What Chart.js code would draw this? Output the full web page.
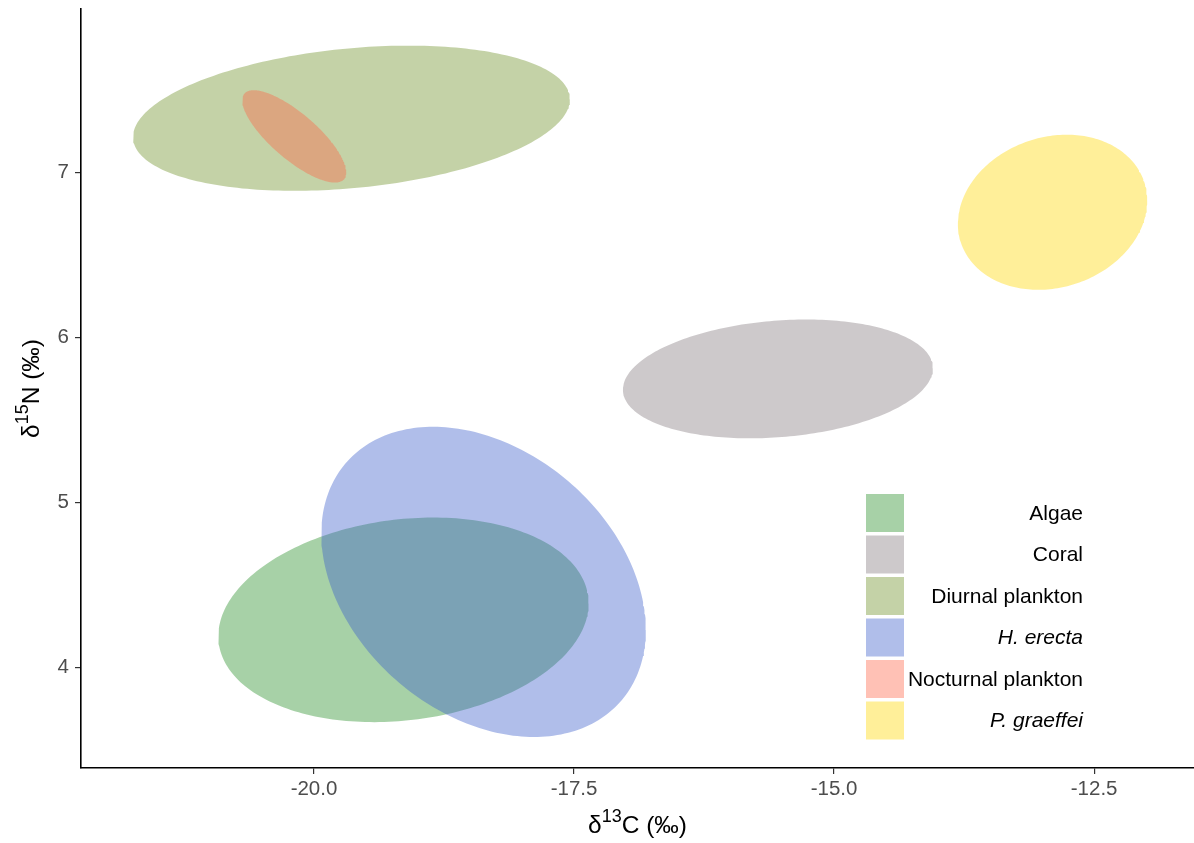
<!DOCTYPE html>
<html>
<head>
<meta charset="utf-8">
<title>Isotopic niche ellipses</title>
<script src="https://cdn.jsdelivr.net/npm/chart.js@4.4.1/dist/chart.umd.min.js"></script>
<style>
  html, body { margin: 0; padding: 0; background: #ffffff; }
  #wrap { width: 1194px; height: 843px; position: relative; }
</style>
</head>
<body>
<div id="wrap"><canvas id="chart" width="1194" height="843"></canvas></div>
<script>
// Standard ellipse summaries per group (δ13C, δ15N in ‰)
const groups = ['Algae', 'Coral', 'Diurnal plankton', 'H. erecta', 'Nocturnal plankton', 'P. graeffei'];
const meanC  = [-19.14, -15.54, -19.64, -18.37, -20.19, -12.90];
const meanN  = [4.29, 5.75, 7.33, 4.52, 7.22, 6.76];
const sdC    = [1.78, 1.49, 2.10, 1.56, 0.50, 0.91];
const sdN    = [0.62, 0.36, 0.44, 0.94, 0.28, 0.47];
const corCN  = [0.16, 0.18, 0.26, -0.31, -0.78, 0.15];

// Axis ticks
const xTicks = [-20.0, -17.5, -15.0, -12.5];
const yTicks = [4, 5, 6, 7];

// Group fills (drawn translucent)
const groupColours = [
  'rgba(34,139,34,0.4)',
  'rgba(130,120,125,0.4)',
  'rgba(107,142,35,0.4)',
  'rgba(57,92,202,0.4)',
  'rgba(255,99,71,0.4)',
  'rgba(255,215,0,0.4)'
];
const italicGroups = ['H. erecta', 'P. graeffei'];

const FONT = '"Liberation Sans", Arial, sans-serif';

// Outline of a covariance ellipse: mean + L·(cos t, sin t), L = Cholesky factor
function ellipseOutline(i, steps) {
  const pts = [];
  const k = Math.sqrt(1 - corCN[i] * corCN[i]);
  for (let s = 0; s <= steps; s++) {
    const t = (s / steps) * 2 * Math.PI;
    pts.push({
      x: meanC[i] + sdC[i] * Math.cos(t),
      y: meanN[i] + sdN[i] * (corCN[i] * Math.cos(t) + k * Math.sin(t))
    });
  }
  return pts;
}

const datasets = groups.map((g, i) => ({
  label: g,
  data: ellipseOutline(i, 240),
  showLine: true,
  fill: 'shape',
  backgroundColor: groupColours[i],
  borderColor: 'rgba(0,0,0,0)',
  borderWidth: 0,
  pointRadius: 0,
  pointHoverRadius: 0,
  tension: 0,
  order: groups.length - i
}));

// Text with a raised isotope number, e.g. δ + "13" + "C (‰)"
function drawIsotopeLabel(ctx, pre, sup, post, cx, cy, size) {
  const big = size + 'px ' + FONT;
  const small = Math.round(size * 0.72) + 'px ' + FONT;
  ctx.font = big;
  const w1 = ctx.measureText(pre).width;
  const w3 = ctx.measureText(post).width;
  ctx.font = small;
  const w2 = ctx.measureText(sup).width;
  let x = cx - (w1 + w2 + w3) / 2;
  ctx.textBaseline = 'middle';
  ctx.textAlign = 'left';
  ctx.font = big;
  ctx.fillText(pre, x, cy);
  x += w1;
  ctx.font = small;
  ctx.fillText(sup, x, cy - size * 0.38);
  x += w2;
  ctx.font = big;
  ctx.fillText(post, x, cy);
}

const axisTitles = {
  id: 'axisTitles',
  afterDraw(chart) {
    const ctx = chart.ctx;
    const a = chart.chartArea;
    ctx.save();
    ctx.fillStyle = '#000000';
    drawIsotopeLabel(ctx, 'δ', '13', 'C (‰)', (a.left + a.right) / 2, 826, 24.5);
    ctx.translate(32, (a.top + a.bottom) / 2);
    ctx.rotate(-Math.PI / 2);
    drawIsotopeLabel(ctx, 'δ', '15', 'N (‰)', 0, 0, 24.5);
    ctx.restore();
  }
};

const groupLegend = {
  id: 'groupLegend',
  afterDraw(chart) {
    const ctx = chart.ctx;
    const keyX = 866, keyTop = 494, keyW = 38, keyH = 38, pitch = 41.5, textRight = 1083;
    ctx.save();
    chart.data.datasets.forEach((ds, i) => {
      const y = keyTop + i * pitch;
      ctx.fillStyle = ds.backgroundColor;
      ctx.fillRect(keyX, y, keyW, keyH);
      ctx.fillStyle = '#000000';
      ctx.font = (italicGroups.includes(ds.label) ? 'italic ' : '') + '21px ' + FONT;
      ctx.textAlign = 'right';
      ctx.textBaseline = 'middle';
      ctx.fillText(ds.label, textRight, y + keyH / 2 + 1);
    });
    ctx.restore();
  }
};

new Chart(document.getElementById('chart'), {
  type: 'scatter',
  data: { datasets },
  options: {
    responsive: false,
    devicePixelRatio: 1,
    animation: false,
    events: [],
    layout: { padding: { top: 9, right: 0, bottom: 0, left: 0 } },
    plugins: {
      legend: { display: false },
      tooltip: { enabled: false },
      title: { display: false }
    },
    scales: {
      x: {
        type: 'linear',
        min: -22.24,
        max: -11.54,
        afterBuildTicks: s => { s.ticks = xTicks.map(v => ({ value: v })); },
        afterFit: s => { s.height = 75; s.paddingLeft = 0; s.paddingRight = 0; },
        border: { display: true, color: '#000000', width: 1.6 },
        grid: { display: true, drawOnChartArea: false, drawTicks: true, tickLength: 6, color: '#333333', lineWidth: 1.2 },
        ticks: {
          color: '#4d4d4d',
          font: { family: FONT, size: 20.5 },
          padding: 3,
          maxRotation: 0,
          callback: v => Number(v).toFixed(1)
        }
      },
      y: {
        type: 'linear',
        min: 3.392,
        max: 7.992,
        afterBuildTicks: s => { s.ticks = yTicks.map(v => ({ value: v })); },
        afterFit: s => { s.width = 81; s.paddingTop = 0; s.paddingBottom = 0; },
        border: { display: true, color: '#000000', width: 1.6 },
        grid: { display: true, drawOnChartArea: false, drawTicks: true, tickLength: 6, color: '#333333', lineWidth: 1.2 },
        ticks: {
          color: '#4d4d4d',
          font: { family: FONT, size: 20.5 },
          padding: 6,
          callback: v => String(v)
        }
      }
    }
  },
  plugins: [axisTitles, groupLegend]
});
</script>
</body>
</html>
